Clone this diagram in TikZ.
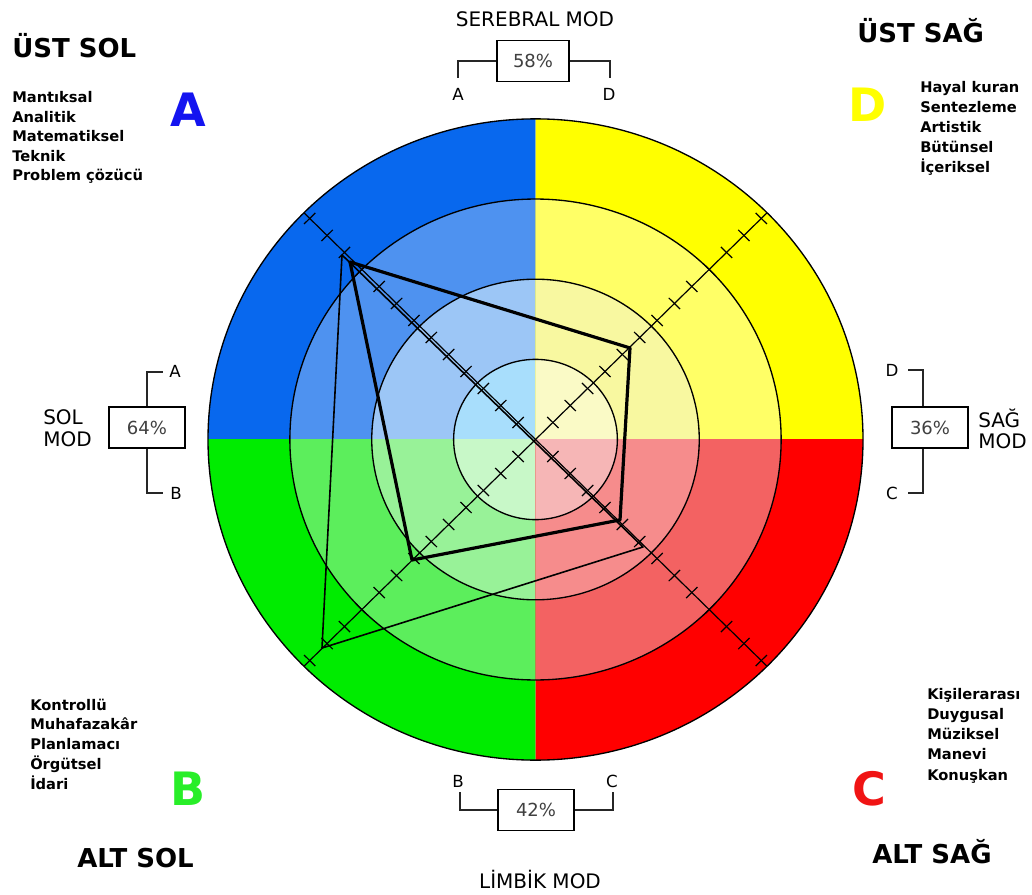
\documentclass[tikz,border=0pt]{standalone}
\usepackage{fontspec}
\setmainfont{DejaVu Sans}
\usetikzlibrary{calc}

% quadrant ring colours (outer -> inner)
\definecolor{blueA}{RGB}{8,104,238}
\definecolor{blueB}{RGB}{78,146,240}
\definecolor{blueC}{RGB}{156,198,246}
\definecolor{blueD}{RGB}{168,222,252}
\definecolor{yelA}{RGB}{255,255,0}
\definecolor{yelB}{RGB}{255,255,102}
\definecolor{yelC}{RGB}{248,248,160}
\definecolor{yelD}{RGB}{250,250,198}
\definecolor{grnA}{RGB}{0,236,0}
\definecolor{grnB}{RGB}{92,238,92}
\definecolor{grnC}{RGB}{152,242,152}
\definecolor{grnD}{RGB}{200,248,200}
\definecolor{redA}{RGB}{255,0,0}
\definecolor{redB}{RGB}{243,98,98}
\definecolor{redC}{RGB}{246,140,140}
\definecolor{redD}{RGB}{246,182,182}
% quadrant letters
\definecolor{letA}{RGB}{20,20,240}
\definecolor{letB}{RGB}{40,238,40}
\definecolor{letC}{RGB}{240,20,20}
\definecolor{letD}{RGB}{255,255,0}
\definecolor{pctgray}{RGB}{64,64,64}

\tikzset{
  heading/.style={font=\fontsize{19.5}{23}\selectfont\bfseries, inner sep=0, anchor=base west},
  listtext/.style={font=\fontsize{11}{13}\selectfont\bfseries, inner sep=0, anchor=base west},
  bigletter/.style={font=\fontsize{34.5}{40}\selectfont\bfseries, inner sep=0},
  modelabel/.style={font=\fontsize{15}{18}\selectfont, inner sep=0},
  pctbox/.style={draw=black, line width=1.1pt, fill=white, minimum width=57pt,
    minimum height=31pt, inner sep=0, font=\fontsize{13.5}{15}\selectfont, text=pctgray},
  bracket/.style={draw=black!85, line width=1.4pt},
  endletter/.style={font=\fontsize{12.5}{14}\selectfont, inner sep=0},
  ring/.style={draw=black, line width=1pt},
  axisline/.style={draw=black, line width=0.9pt},
  tickmark/.style={draw=black, line width=0.9pt},
  profilethick/.style={draw=black, line width=2.4pt, line join=round},
  profilethin/.style={draw=black, line width=1.2pt, line join=round},
}

\begin{document}
\begin{tikzpicture}[x=0.75pt, y=-0.75pt]
\useasboundingbox (0,0) rectangle (1032,895);

% ---------- the four-quadrant chart ----------
\begin{scope}[shift={(535.5,439.5)}, yscale=0.979]
  \foreach \qx/\qy/\ca/\cb/\cc/\cd in {
      -1/-1/blueA/blueB/blueC/blueD,
       1/-1/yelA/yelB/yelC/yelD,
      -1/1/grnA/grnB/grnC/grnD,
       1/1/redA/redB/redC/redD} {
    \begin{scope}
      \clip (0,0) rectangle ({\qx*340},{\qy*340});
      \fill[\ca] (0,0) circle[radius=327.5];
      \fill[\cb] (0,0) circle[radius=245.625];
      \fill[\cc] (0,0) circle[radius=163.75];
      \fill[\cd] (0,0) circle[radius=81.875];
    \end{scope}
  }
  \foreach \r in {81.875,163.75,245.625,327.5}
    \draw[ring] (0,0) circle[radius=\r];

  % diagonal scales with a tick every 10 units
  \draw[axisline] (135:327.5) -- (315:327.5);
  \draw[axisline] (45:327.5) -- (225:327.5);
  \foreach \a in {45,135,225,315}
    \foreach \k in {1,...,13}
      \draw[tickmark] (\a:{\k*24.5625}) ++({\a+90}:8) -- ++({\a-90}:16);

  % profile points
  \coordinate (pA) at (-185.5,-181.3);
  \coordinate (pD) at (94.5,-93.5);
  \coordinate (pC) at (84.5,82.2);
  \coordinate (pB) at (-123.5,123.1);
  \coordinate (qA) at (-193.5,-188.5);
  \coordinate (qB) at (-213.5,213);
  \coordinate (qC) at (107.5,109.8);
  \draw[profilethin] (qA) -- (qB) -- (qC) -- cycle;
  \draw[profilethick] (pA) -- (pD) -- (pC) -- (pB) -- cycle;
\end{scope}

% ---------- corner headings ----------
\node[heading] (hTL) at (12,58) {ÜST SOL};
\node[heading] (hTR) at (857,43) {ÜST SAĞ};
\node[heading] (hBL) at (77,867) {ALT SOL};
\node[heading] (hBR) at (872,863) {ALT SAĞ};

% ---------- quadrant letters ----------
\node[bigletter, text=letA] (qlA) at (188,110) {A};
\node[bigletter, text=letD] (qlD) at (868,105) {D};
\node[bigletter, text=letB] (qlB) at (188,789) {B};
\node[bigletter, text=letC] (qlC) at (869,789) {C};

% ---------- trait lists ----------
\foreach \t [count=\i] in {Mantıksal,Analitik,Matematiksel,Teknik,Problem çözücü}
  \node[listtext] (tl\i) at (12,{103+19.5*(\i-1)}) {\t};
\foreach \t [count=\i] in {Hayal kuran,Sentezleme,Artistik,Bütünsel,İçeriksel}
  \node[listtext] (tr\i) at (920,{93+20*(\i-1)}) {\t};
\foreach \t [count=\i] in {Kontrollü,Muhafazakâr,Planlamacı,Örgütsel,İdari}
  \node[listtext] (bl\i) at (30,{710+19.75*(\i-1)}) {\t};
\foreach \t [count=\i] in {Kişilerarası,Duygusal,Müziksel,Manevi,Konuşkan}
  \node[listtext] (br\i) at (927,{699+20.25*(\i-1)}) {\t};

% ---------- mode labels ----------
\node[modelabel, anchor=base] (mT) at (535,27) {SEREBRAL MOD};
\node[modelabel, anchor=base] (mB) at (540,888) {LİMBİK MOD};
\node[modelabel, anchor=base west] (mL1) at (43,424) {SOL};
\node[modelabel, anchor=base west] (mL2) at (43,446) {MOD};
\node[modelabel, anchor=base west] (mR1) at (978,427) {SAĞ};
\node[modelabel, anchor=base west] (mR2) at (978,448) {MOD};

% ---------- percentage boxes with brackets ----------
% top
\node[pctbox, minimum width=54pt] (boxT) at (533,61) {58\%};
\coordinate (tA) at (458,78);
\coordinate (tD) at (610,78);
\draw[bracket] (boxT.west) -| (tA);
\draw[bracket] (boxT.east) -| (tD);
\node[endletter] (ltA) at (458,94) {A};
\node[endletter] (ltD) at (609,94) {D};
% left
\node[pctbox] (boxL) at (147,427.5) {64\%};
\coordinate (lA) at (163,372);
\coordinate (lB) at (163,493);
\draw[bracket] (boxL.north) |- (lA);
\draw[bracket] (boxL.south) |- (lB);
\node[endletter] (llA) at (175,371) {A};
\node[endletter] (llB) at (176,493) {B};
% right
\node[pctbox] (boxR) at (930,427.5) {36\%};
\coordinate (rD) at (908,370);
\coordinate (rC) at (908,493);
\draw[bracket] ([xshift=-5.25pt]boxR.north) |- (rD);
\draw[bracket] ([xshift=-5.25pt]boxR.south) |- (rC);
\node[endletter] (lrD) at (892,370) {D};
\node[endletter] (lrC) at (892,493) {C};
% bottom
\node[pctbox] (boxB) at (536,810) {42\%};
\coordinate (bB) at (460,792);
\coordinate (bC) at (613,792);
\draw[bracket] (boxB.west) -| (bB);
\draw[bracket] (boxB.east) -| (bC);
\node[endletter] (lbB) at (458,781) {B};
\node[endletter] (lbC) at (612,781) {C};
\end{tikzpicture}
\end{document}
